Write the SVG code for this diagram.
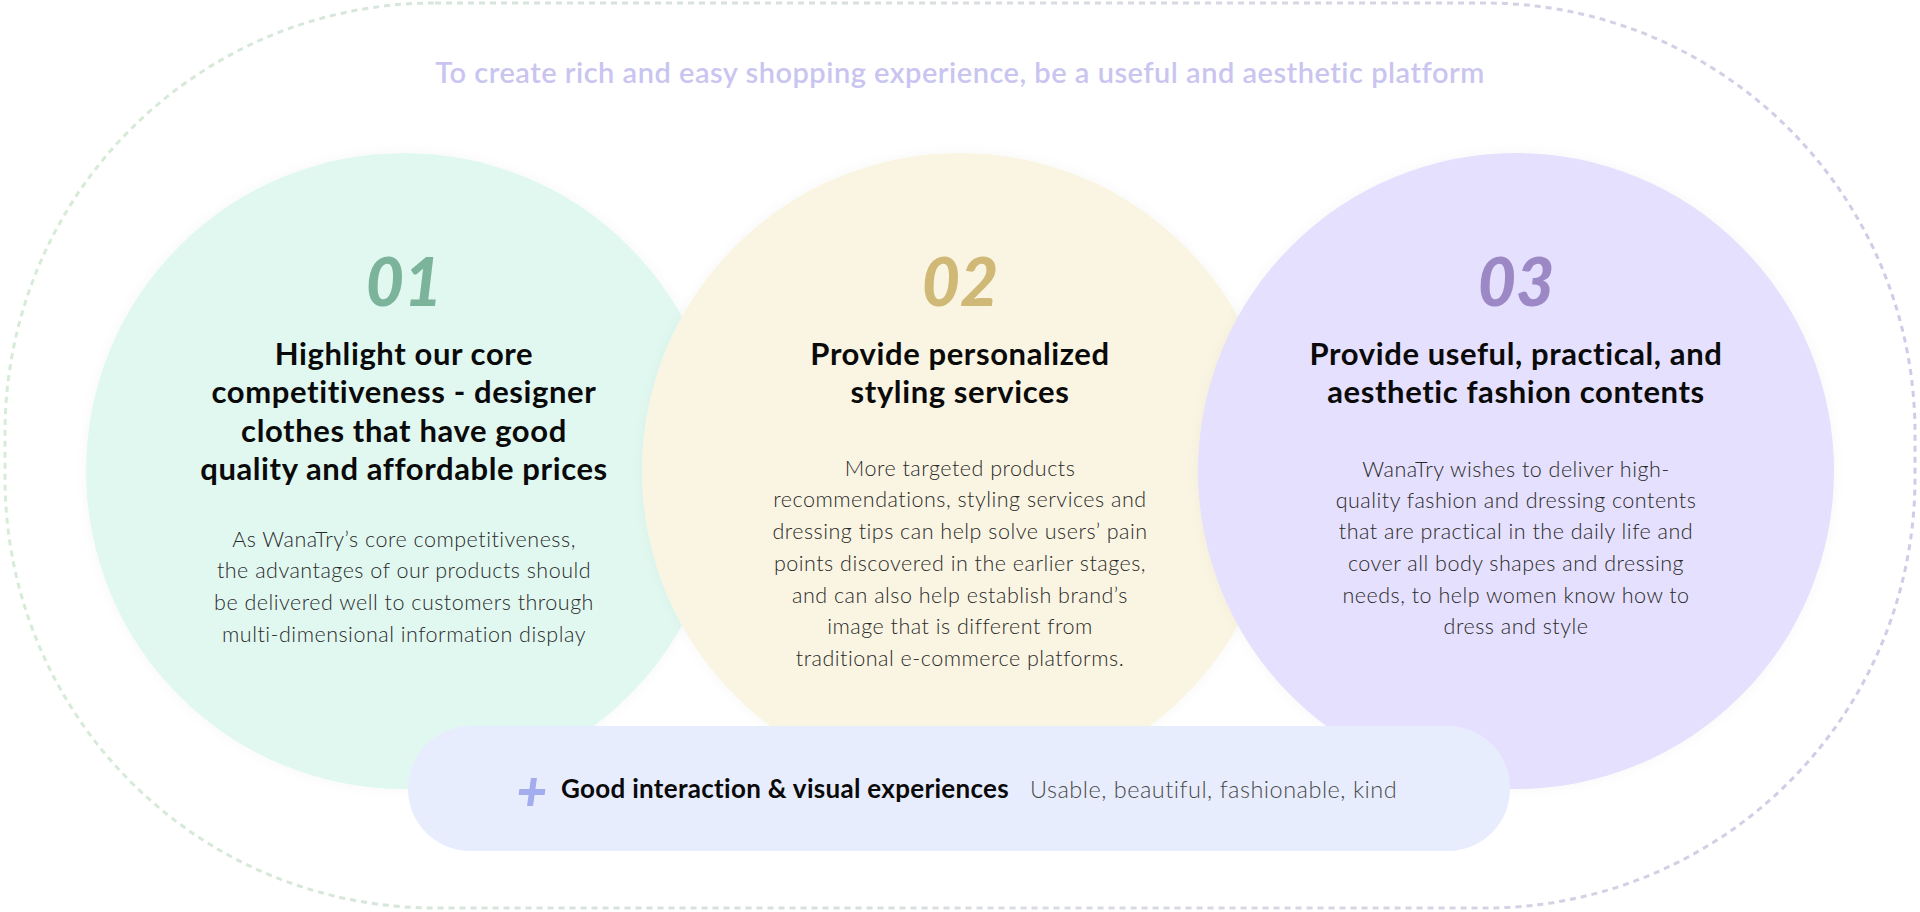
<svg xmlns="http://www.w3.org/2000/svg" width="1920" height="912" viewBox="0 0 1920 912">
<defs>
<linearGradient id="outerGrad" x1="0" y1="0" x2="1" y2="0">
<stop offset="0" stop-color="#d6ecd7"/>
<stop offset="0.5" stop-color="#d9dde0"/>
<stop offset="1" stop-color="#d0cbe8"/>
</linearGradient>
<filter id="soft" x="-10%" y="-10%" width="120%" height="120%">
<feDropShadow dx="0" dy="0" stdDeviation="6" flood-color="#000" flood-opacity="0.035"/>
</filter>
<style>
.num{font-family:Lato,"Noto Sans",sans-serif;font-weight:900;font-style:italic;font-size:66px;text-anchor:middle}
.head{font-family:Lato,"Noto Sans",sans-serif;font-weight:700;font-size:31px;letter-spacing:0.6px;fill:#0a0a0a;text-anchor:middle}
.body{font-family:Lato,"Noto Sans",sans-serif;font-weight:300;font-size:21.5px;letter-spacing:0.5px;fill:#2a2a2a;text-anchor:middle}
</style>
</defs>
<rect width="1920" height="912" fill="#ffffff"/>
<rect id="outer" x="5" y="3" width="1910" height="905" rx="430" ry="430" fill="none" stroke="url(#outerGrad)" stroke-width="3" stroke-dasharray="6 5"/>
<text id="title" x="960" y="83" font-family="Lato,'Noto Sans',sans-serif" font-weight="600" font-size="29" letter-spacing="0.5" fill="#c9c5f0" text-anchor="middle">To create rich and easy shopping experience, be a useful and aesthetic platform</text>
<g id="connectors"></g>
<g id="node1">
<circle cx="404" cy="471" r="318" fill="#e1f8f1" filter="url(#soft)"/>
</g>
<g id="node2">
<circle cx="960" cy="471" r="318" fill="#faf5e2" filter="url(#soft)"/>
</g>
<g id="node3">
<circle cx="1516" cy="471" r="318" fill="#e5e0fd" filter="url(#soft)"/>
</g>
<g id="node1-text">
<text class="num" x="404" y="306" fill="#7bb39b">01</text>
<text class="head" x="404" y="365">Highlight our core</text>
<text class="head" x="404" y="403">competitiveness - designer</text>
<text class="head" x="404" y="442">clothes that have good</text>
<text class="head" x="404" y="480">quality and affordable prices</text>
<text class="body" x="404" y="547">As WanaTry’s core competitiveness,</text>
<text class="body" x="404" y="578">the advantages of our products should</text>
<text class="body" x="404" y="610">be delivered well to customers through</text>
<text class="body" x="404" y="642">multi-dimensional information display</text>
</g>
<g id="node2-text">
<text class="num" x="960" y="306" fill="#d0b877">02</text>
<text class="head" x="960" y="365">Provide personalized</text>
<text class="head" x="960" y="403">styling services</text>
<text class="body" x="960" y="476">More targeted products</text>
<text class="body" x="960" y="507">recommendations, styling services and</text>
<text class="body" x="960" y="539">dressing tips can help solve users’ pain</text>
<text class="body" x="960" y="571">points discovered in the earlier stages,</text>
<text class="body" x="960" y="603">and can also help establish brand’s</text>
<text class="body" x="960" y="634">image that is different from</text>
<text class="body" x="960" y="666">traditional e-commerce platforms.</text>
</g>
<g id="node3-text">
<text class="num" x="1516" y="306" fill="#9c88c5">03</text>
<text class="head" x="1516" y="365">Provide useful, practical, and</text>
<text class="head" x="1516" y="403">aesthetic fashion contents</text>
<text class="body" x="1516" y="477">WanaTry wishes to deliver high-</text>
<text class="body" x="1516" y="508">quality fashion and dressing contents</text>
<text class="body" x="1516" y="539">that are practical in the daily life and</text>
<text class="body" x="1516" y="571">cover all body shapes and dressing</text>
<text class="body" x="1516" y="603">needs, to help women know how to</text>
<text class="body" x="1516" y="634">dress and style</text>
</g>
<g id="node4">
<rect x="408" y="726" width="1102" height="125" rx="62" ry="62" fill="#e8edfd"/>
<g transform="translate(532 792) skewX(-8)" fill="#a3acec">
<rect x="-3" y="-14" width="6" height="28"/>
<rect x="-13" y="-3" width="26" height="6"/>
</g>
<text x="561" y="798" font-family="Lato,'Noto Sans',sans-serif" font-weight="700" font-size="26" letter-spacing="0.3" fill="#0a0a0a">Good interaction &amp; visual experiences</text>
<text x="1030" y="798" font-family="Lato,'Noto Sans',sans-serif" font-weight="300" font-size="23.5" letter-spacing="0.5" fill="#4a4a4a">Usable, beautiful, fashionable, kind</text>
</g>
</svg>
